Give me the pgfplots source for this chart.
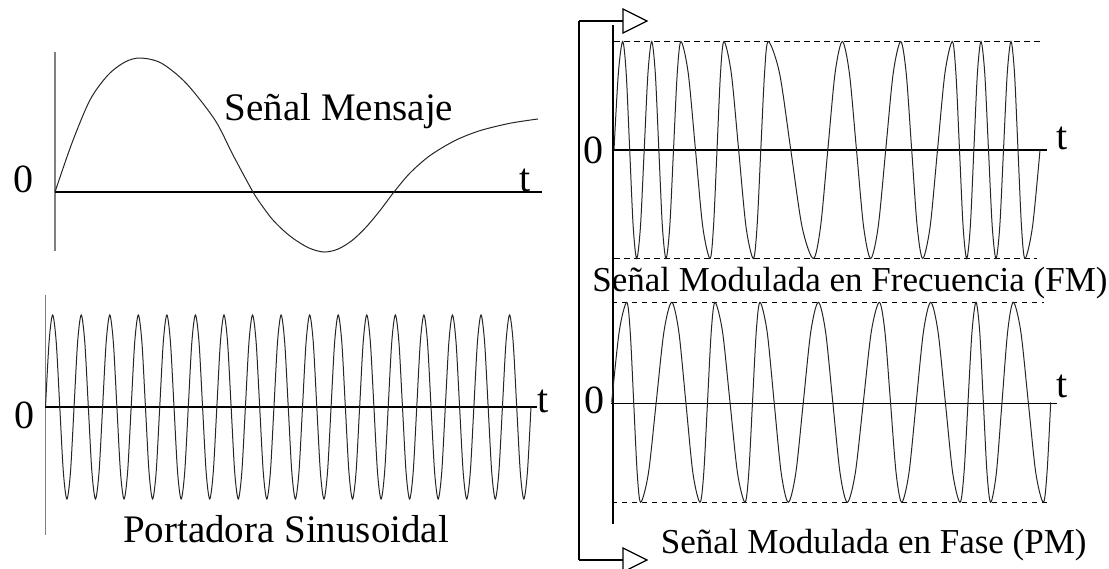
\documentclass[border=0pt]{standalone}
\usepackage{fontspec}
\setmainfont{Liberation Serif}
\usepackage{pgfplots}
\pgfplotsset{compat=1.18}
\newcommand{\bigf}{\fontsize{19.5}{22}\selectfont}
\newcommand{\midf}{\fontsize{17.5}{20}\selectfont}
\newcommand{\labf}{\fontsize{20}{22}\selectfont}
\begin{document}
\begin{tikzpicture}
\useasboundingbox (0,0) rectangle (554.5pt,-284pt);
\pgfplotsset{panel/.style={scale only axis, hide axis, clip=false},
  wave/.style={smooth, no markers, line width=0.5pt, black!85}}
% ---------------- Message signal ----------------
\begin{axis}[panel, at={(27.5pt,-129.5pt)}, anchor=south west,
  width=243.5pt, height=103.85pt, xmin=0, xmax=10, ymin=-0.5, ymax=1.05]
\draw[gray, line width=0.9pt] (axis cs:0,-0.44) -- (axis cs:0,1.045);
\draw[line width=0.6pt] (axis cs:0,0) -- (axis cs:10,0);
\addplot[wave] coordinates {(0,0) (0.349,0.366) (0.719,0.687) (1.088,0.873) (1.437,0.970) (1.745,1) (2.177,0.963) (2.690,0.813) (3.285,0.537) (3.655,0.276) (4.066,0) (4.271,-0.112) (4.456,-0.201) (4.682,-0.284) (4.908,-0.351) (5.216,-0.418) (5.524,-0.448) (5.811,-0.426) (6.099,-0.362) (6.386,-0.263) (6.674,-0.138) (6.961,0) (7.290,0.142) (7.700,0.272) (8.214,0.384) (8.727,0.458) (9.343,0.513) (9.918,0.545)};
\node[font=\labf] at (axis cs:-0.64,0.097) {0};
\node[font=\labf] at (axis cs:9.65,0.09) {t};
\node[anchor=base, font=\bigf] at (axis cs:5.83,0.53) {Señal Mensaje};
\end{axis}
% ---------------- Carrier ----------------
\begin{axis}[panel, at={(22.75pt,-267.9pt)}, anchor=south west,
  width=242.75pt, height=121.9pt, xmin=0, xmax=68, ymin=-1.4, ymax=1.25]
\draw[gray, line width=0.9pt] (axis cs:0,-1.391) -- (axis cs:0,1.217);
\draw[line width=0.6pt] (axis cs:0,0) -- (axis cs:68.84,0);
\addplot[wave] coordinates {
(0,0)(0.5,0.707)(1,1)(1.5,0.707)(2,0)(2.5,-0.707)(3,-1)(3.5,-0.707)
(4,0)(4.5,0.707)(5,1)(5.5,0.707)(6,0)(6.5,-0.707)(7,-1)(7.5,-0.707)
(8,0)(8.5,0.707)(9,1)(9.5,0.707)(10,0)(10.5,-0.707)(11,-1)(11.5,-0.707)
(12,0)(12.5,0.707)(13,1)(13.5,0.707)(14,0)(14.5,-0.707)(15,-1)(15.5,-0.707)
(16,0)(16.5,0.707)(17,1)(17.5,0.707)(18,0)(18.5,-0.707)(19,-1)(19.5,-0.707)
(20,0)(20.5,0.707)(21,1)(21.5,0.707)(22,0)(22.5,-0.707)(23,-1)(23.5,-0.707)
(24,0)(24.5,0.707)(25,1)(25.5,0.707)(26,0)(26.5,-0.707)(27,-1)(27.5,-0.707)
(28,0)(28.5,0.707)(29,1)(29.5,0.707)(30,0)(30.5,-0.707)(31,-1)(31.5,-0.707)
(32,0)(32.5,0.707)(33,1)(33.5,0.707)(34,0)(34.5,-0.707)(35,-1)(35.5,-0.707)
(36,0)(36.5,0.707)(37,1)(37.5,0.707)(38,0)(38.5,-0.707)(39,-1)(39.5,-0.707)
(40,0)(40.5,0.707)(41,1)(41.5,0.707)(42,0)(42.5,-0.707)(43,-1)(43.5,-0.707)
(44,0)(44.5,0.707)(45,1)(45.5,0.707)(46,0)(46.5,-0.707)(47,-1)(47.5,-0.707)
(48,0)(48.5,0.707)(49,1)(49.5,0.707)(50,0)(50.5,-0.707)(51,-1)(51.5,-0.707)
(52,0)(52.5,0.707)(53,1)(53.5,0.707)(54,0)(54.5,-0.707)(55,-1)(55.5,-0.707)
(56,0)(56.5,0.707)(57,1)(57.5,0.707)(58,0)(58.5,-0.707)(59,-1)(59.5,-0.707)
(60,0)(60.5,0.707)(61,1)(61.5,0.707)(62,0)(62.5,-0.707)(63,-1)(63.5,-0.707)
(64,0)(64.5,0.707)(65,1)(65.5,0.707)(66,0)(66.5,-0.707)(67,-1)(67.5,-0.707)
(68,0)};
\node[font=\labf] at (axis cs:-3.01,-0.087) {0};
\node[font=\labf] at (axis cs:69.7,0.065) {t};
\node[anchor=base, font=\bigf] at (axis cs:33.7,-1.478) {Portadora Sinusoidal};
\end{axis}
% ---------------- FM ----------------
\begin{axis}[panel, at={(307pt,-129.25pt)}, anchor=south west,
  width=213pt, height=108.5pt, xmin=0, xmax=426, ymin=-1, ymax=1]
\draw[line width=0.6pt] (axis cs:-1,1.152) -- (axis cs:-1,-3.447);
\draw[line width=0.6pt] (axis cs:-35,1.189) -- (axis cs:-35,-3.779);
\draw[line width=0.6pt] (axis cs:-35,1.189) -- (axis cs:9,1.189);
\draw[line width=0.6pt] (axis cs:-35,-3.779) -- (axis cs:9,-3.779);
\draw[line width=0.6pt, fill=white] (axis cs:9,1.2996) -- (axis cs:33,1.189) -- (axis cs:9,1.0784) -- cycle;
\draw[line width=0.6pt, fill=white] (axis cs:9,-3.6684) -- (axis cs:33,-3.779) -- (axis cs:9,-3.8896) -- cycle;
\draw[line width=0.6pt] (axis cs:-2,0) -- (axis cs:433,0);
\draw[line width=0.5pt, dash pattern=on 2.75pt off 2.25pt] (axis cs:0,1) -- (axis cs:426,1);
\draw[line width=0.5pt, dash pattern=on 2.75pt off 2.25pt] (axis cs:0,-1) -- (axis cs:423,-1);
\addplot[wave] coordinates {
(0,0)(4.35,0.707)(8.7,1)(12.2,0.707)(15.7,0)(19.2,-0.707)(22.7,-1)(26.45,-0.707)
(30.2,0)(33.95,0.707)(37.7,1)(41.3,0.707)(44.85,0)(48.4,-0.707)(52,-1)(55.75,-0.707)
(59.5,0)(63.25,0.707)(67,1)(74.25,0.707)(81.5,0)(88.75,-0.707)(96,-1)(99.5,-0.707)
(103,0)(106.5,0.707)(110,1)(117.3,0.707)(124.65,0)(132,-0.707)(139.3,-1)(143.05,-0.707)
(146.8,0)(150.55,0.707)(154.3,1)(165.55,0.707)(176.8,0)(188.05,-0.707)(199.3,-1)(206.55,-0.707)
(213.8,0)(221.05,0.707)(228.3,1)(235.4,0.707)(242.5,0)(249.6,-0.707)(256.7,-1)(264.2,-0.707)
(271.7,0)(279.2,0.707)(286.7,1)(292.2,0.707)(297.7,0)(303.2,-0.707)(308.7,-1)(316.1,-0.707)
(323.5,0)(330.9,0.707)(338.3,1)(341.9,0.707)(345.5,0)(349.1,-0.707)(352.7,-1)(356.3,-0.707)
(359.85,0)(363.4,0.707)(367,1)(370.75,0.707)(374.5,0)(378.25,-0.707)(382,-1)(385.75,-0.707)
(389.5,0)(393.25,0.707)(397,1)(400.5,0.707)(404,0)(407.5,-0.707)(411,-1)(418.5,-0.707)
(426,0)};
\node[font=\labf] at (axis cs:-21,0) {0};
\node[font=\labf] at (axis cs:448,0.11) {t};
\node[anchor=base, font=\midf] at (axis cs:236,-1.30) {Señal Modulada en Frecuencia (FM)};
\end{axis}
% ---------------- PM ----------------
\begin{axis}[panel, at={(305.85pt,-251.15pt)}, anchor=south west,
  width=219.5pt, height=100pt, xmin=0, xmax=439, ymin=-1, ymax=1]
\draw[line width=0.6pt] (axis cs:-1,-0.01) -- (axis cs:445,-0.01);
\draw[line width=0.5pt, dash pattern=on 2.75pt off 2.25pt] (axis cs:0,1) -- (axis cs:432,1);
\draw[line width=0.5pt, dash pattern=on 2.75pt off 2.25pt] (axis cs:0,-1) -- (axis cs:436,-1);
\addplot[wave] coordinates {
(0,0)(7.5,0.707)(15,1)(18.5,0.707)(22,0)(25.5,-0.707)(29,-1)(36.75,-0.707)
(44.5,0)(52.25,0.707)(60,1)(67.1,0.707)(74.15,0)(81.2,-0.707)(88.3,-1)(92.05,-0.707)
(95.8,0)(99.55,0.707)(103.3,1)(110.8,0.707)(118.3,0)(125.8,-0.707)(133.3,-1)(137.05,-0.707)
(140.8,0)(144.55,0.707)(148.3,1)(155.4,0.707)(162.45,0)(169.5,-0.707)(176.6,-1)(184.1,-0.707)
(191.6,0)(199.1,0.707)(206.6,1)(213.85,0.707)(221.1,0)(228.35,-0.707)(235.6,-1)(243.6,-0.707)
(251.6,0)(259.6,0.707)(267.6,1)(273.2,0.707)(278.8,0)(284.4,-0.707)(290,-1)(297.25,-0.707)
(304.5,0)(311.75,0.707)(319,1)(326.3,0.707)(333.65,0)(341,-0.707)(348.3,-1)(352.3,-0.707)
(356.3,0)(360.3,0.707)(364.3,1)(368,0.707)(371.65,0)(375.3,-0.707)(379,-1)(384.65,-0.707)
(390.3,0)(395.95,0.707)(401.6,1)(409.1,0.707)(416.6,0)(424.1,-0.707)(431.6,-1)(435.3,-0.707)
(439,0)};
\node[font=\labf] at (axis cs:-17,0.02) {0};
\node[font=\labf] at (axis cs:450,0.16) {t};
\node[anchor=base, font=\midf] at (axis cs:262,-1.507) {Señal Modulada en Fase (PM)};
\end{axis}
\end{tikzpicture}
\end{document}
